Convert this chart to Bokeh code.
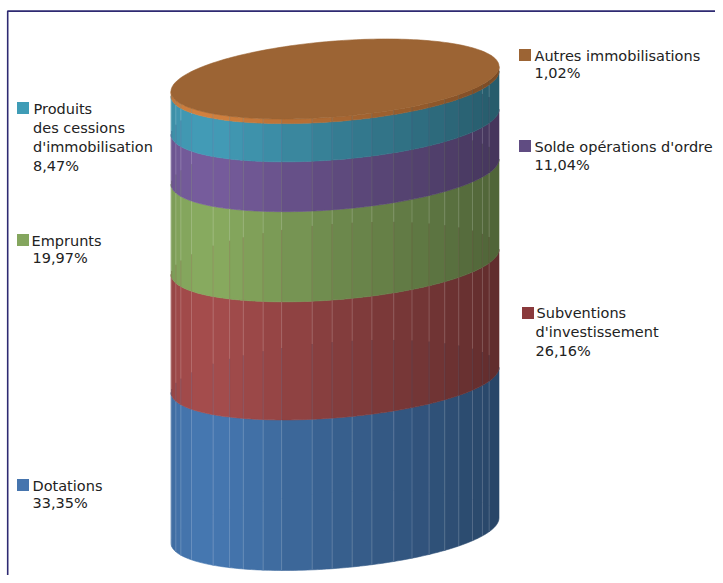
import numpy as np
from bokeh.plotting import figure
from bokeh.models import Range1d
from bokeh.core.properties import value
from bokeh.embed import file_html
from bokeh.resources import INLINE

# ---- data (bottom of the stack first) ----
categories = ["Dotations", "Subventions", "Emprunts", "Solde", "Produits", "Autres"]
values = [33.35, 26.16, 19.97, 11.04, 8.47, 1.02]
label_lines = [
    ["Dotations"],
    ["Subventions", "d'investissement"],
    ["Emprunts"],
    ["Solde opérations d'ordre"],
    ["Produits", "des cessions", "d'immobilisation"],
    ["Autres immobilisations"],
]
side_colors = ["#4678B2", "#A64D4D", "#89AC60", "#775D9E", "#439DB8", "#D3813F"]
swatch_colors = ["#4675AE", "#8A3A3C", "#84A65E", "#604C82", "#3F9CB6", "#9C6434"]
top_color = "#9C6434"

# ---- geometry of the drawing, in pixels of the picture ----
CX, A, B, TILT = 334.5, 164.0, 38.0, 12.5
BASE_PX, TOP_PX = 530.0, 78.5
PX_PER_UNIT = (BASE_PX - TOP_PX) / sum(values)
FACET_DEG = [0, 20, 26, 33, 41, 48, 55, 62, 69, 77, 84, 91, 98, 109, 116, 124,
             130, 138, 151, 160, 166, 175, 180]
SHADE_F = [0.0, 0.03, 0.12, 0.5, 0.8, 1.0]
SHADE_V = [0.90, 0.96, 1.0, 0.80, 0.68, 0.58]
# label anchors: swatch left, swatch top, text x of each line, text centre of first line, line step
LABEL_POS = [
    (16.5, 478.5, [32, 32], 485, 17.5),
    (521.5, 306.5, [536, 535, 535], 312, 19),
    (16.5, 233.5, [31, 32], 240, 17.5),
    (518.5, 139.5, [534, 534], 146, 18),
    (16.5, 101.5, [33, 32.5, 32.5, 32.5], 108, 19),
    (518.5, 48.5, [534, 534], 55, 17.5),
]


def to_y(px):
    return (BASE_PX - px) / PX_PER_UNIT


def off(t, side=1.0):
    """vertical pixel offset of a rim point from the rim's centre line"""
    return side * B * np.sin(t) - TILT * np.cos(t)


def rgb(h):
    return np.array([int(h[i:i + 2], 16) for i in (1, 3, 5)], dtype=float)


def hexc(c):
    return "#%02x%02x%02x" % tuple(int(round(v)) for v in np.clip(c, 0, 255))


def shade(h, x):
    f = (x - (CX - A)) / (2 * A)
    return rgb(h) * np.interp(f, SHADE_F, SHADE_V)


cum = np.concatenate([[0.0], np.cumsum(values)])

p = figure(width=715, height=575, output_backend="svg", toolbar_location=None,
           x_range=Range1d(0, 715), y_range=Range1d(to_y(575), to_y(0)),
           min_border=0)
p.axis.visible = False
p.grid.visible = False
p.outline_line_color = None
p.background_fill_color = "white"
p.border_fill_color = "white"

# frame
FRAME = "#2E2A72"
p.line([7.2, 7.2, 715], [to_y(575), to_y(10.6), to_y(10.6)], line_color=FRAME, line_width=1.6)

ang = np.radians(FACET_DEG)[::-1]  # left to right across the front
seg_xs, seg_ys, seg_cols = [], [], []
for i in range(len(values)):
    lo, hi = cum[i], cum[i + 1]
    for j in range(len(ang) - 1):
        t = np.linspace(ang[j], ang[j + 1], 8)
        xs = CX + A * np.cos(t)
        y_hi = hi - off(t) / PX_PER_UNIT
        y_lo = lo - off(t) / PX_PER_UNIT
        col = hexc(shade(side_colors[i], xs.mean()))
        p.patch(np.concatenate([xs, xs[::-1]]), np.concatenate([y_hi, y_lo[::-1]]),
                fill_color=col, line_color=col, line_width=0.6)
    # facet seams: pale above the far rim of the lower boundary, tinted below it
    for tt in ang[1:-1]:
        x = CX + A * np.cos(tt)
        y_t = hi - off(tt) / PX_PER_UNIT
        y_b = lo - off(tt) / PX_PER_UNIT
        y_m = min(y_t, lo - off(tt, -1.0) / PX_PER_UNIT)
        own = shade(side_colors[i], x)
        below = shade(side_colors[i - 1], x) if i > 0 else None
        pale = own * 0.72 + np.array([255, 255, 255]) * 0.28
        tint = pale if below is None else own * 0.6 + below * 0.32 + 10
        seg_xs += [[x, x], [x, x]]
        seg_ys += [[y_t, y_m], [y_m, y_b]]
        seg_cols += [hexc(pale), hexc(tint)]
p.multi_line(seg_xs, seg_ys, line_color=seg_cols, line_width=0.9, line_alpha=0.7)

# top lid
t = np.linspace(0, 2 * np.pi, 241)
p.patch(CX + A * np.cos(t), cum[-1] - off(t) / PX_PER_UNIT,
        fill_color=top_color, line_color=top_color, line_width=0.6)

# labels
for i, lines in enumerate(label_lines):
    sx, sy, txs, ty, step = LABEL_POS[i]
    p.quad(left=sx, right=sx + 12, top=to_y(sy), bottom=to_y(sy + 12),
           fill_color=swatch_colors[i], line_color=None)
    pct = f"{values[i]:.2f}".replace(".", ",") + "%"
    for k, s in enumerate(lines + [pct]):
        p.text([txs[k]], [to_y(ty + k * step)], text=[s],
               text_font=value("DejaVu Sans"), text_font_size="14.5px",
               text_color="#222222", text_baseline="middle", text_align="left")

open("out.html", "w").write(file_html(p, INLINE))
